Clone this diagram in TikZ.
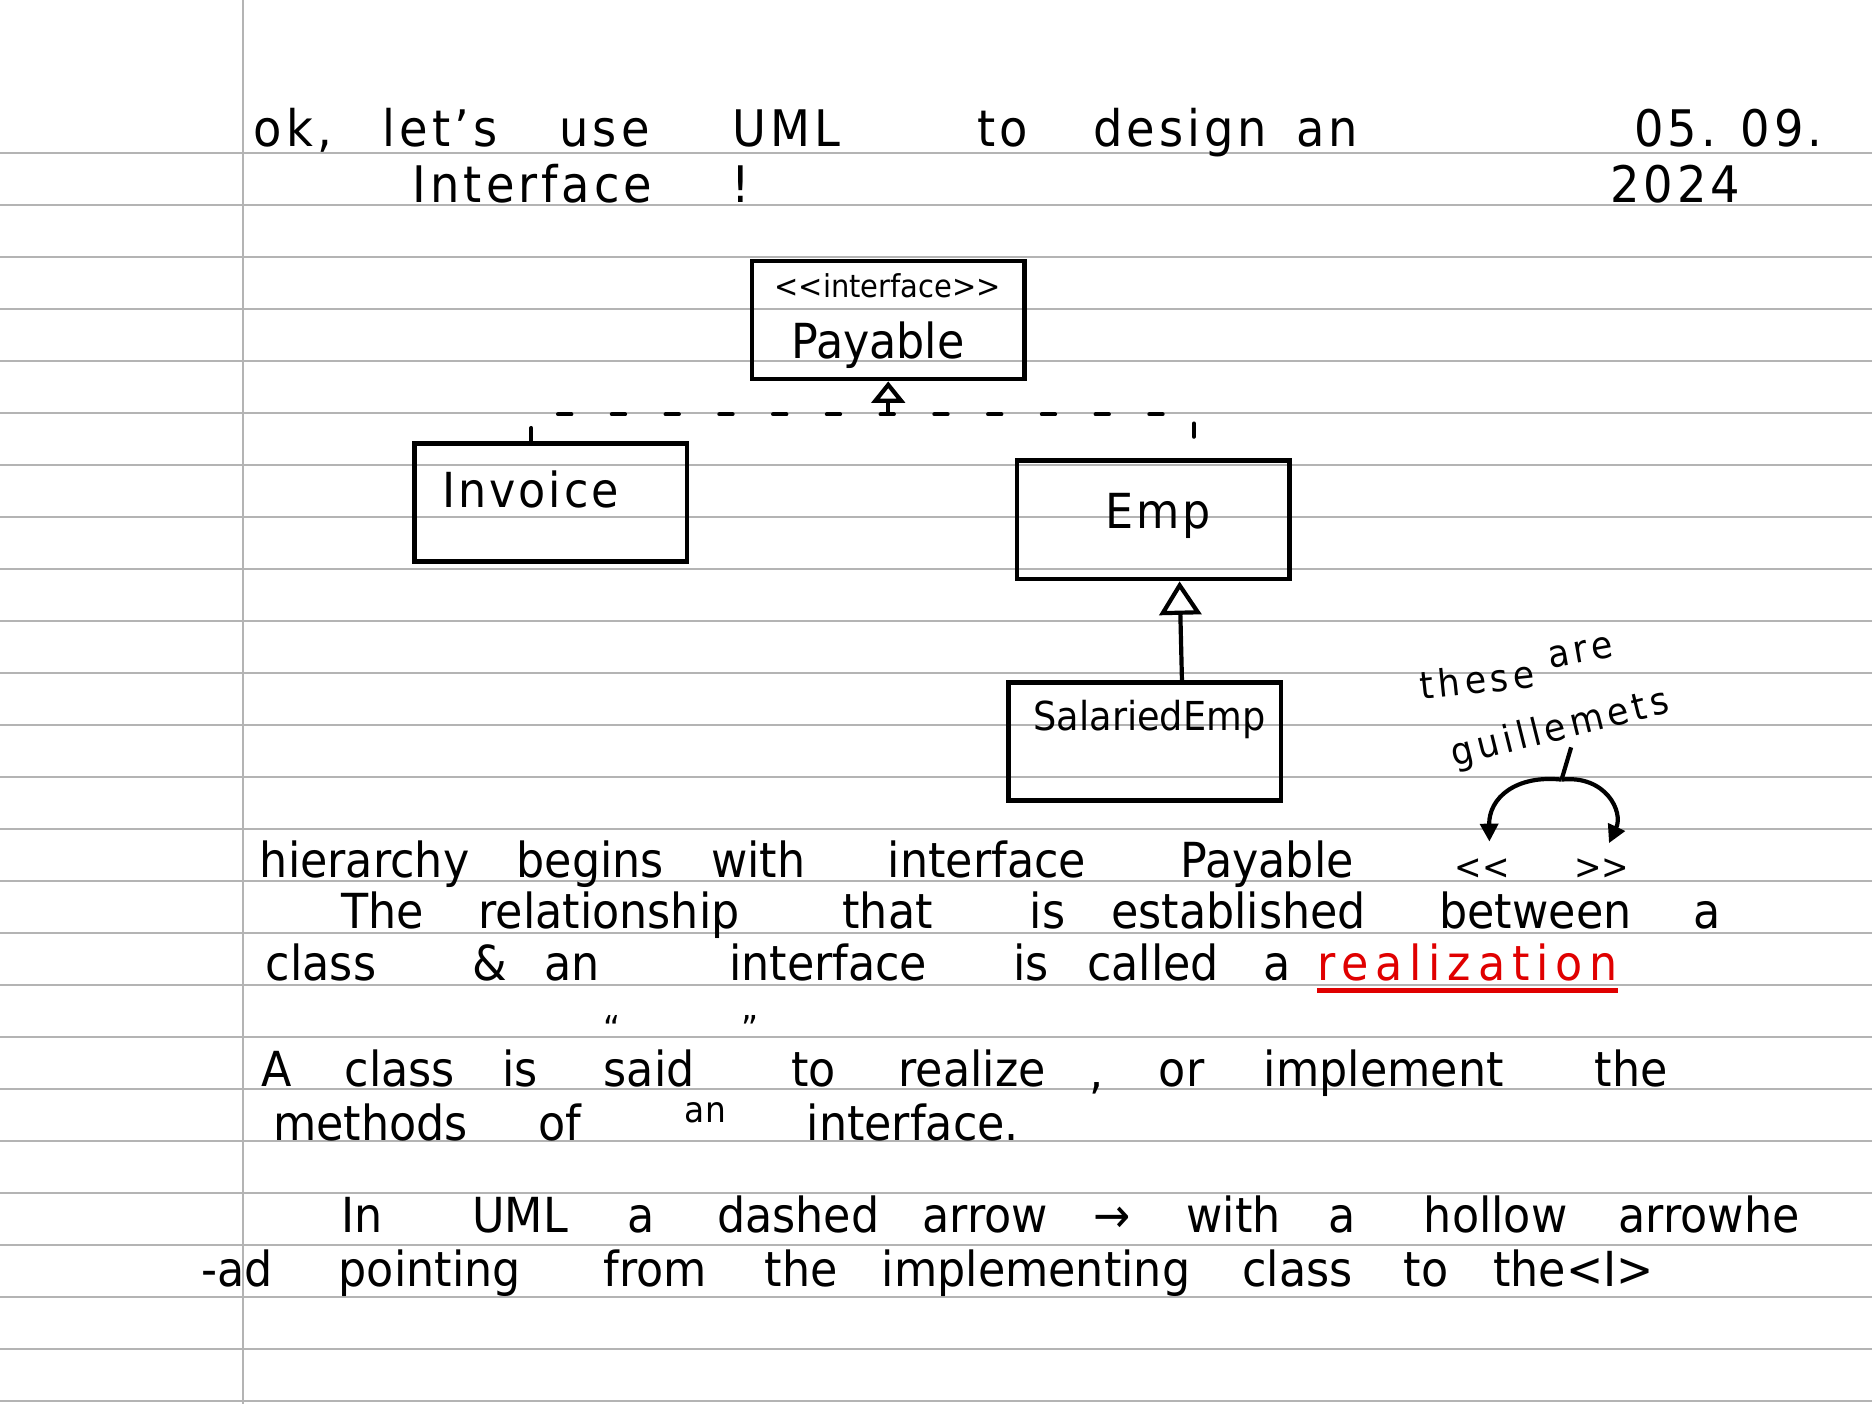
\documentclass[tikz,border=0pt]{standalone}
\usepackage{fontspec}
\setmainfont{DejaVu Sans}[FakeStretch=0.92]
\usepackage{tikz}
\usetikzlibrary{
  arrows.meta,
}
\definecolor{rulegray}{HTML}{B4B4B4}
\definecolor{inkred}{HTML}{E00000}

\tikzset{
  ruling/.style={rulegray, line width=0.5pt},
  hand/.style={anchor=base west, inner sep=0pt, font=\fontsize{11.5}{13}\selectfont},
  titlehand/.style={hand, font=\fontsize{12}{14}\selectfont\addfontfeature{LetterSpace=8}},
  small hand/.style={hand, font=\fontsize{8.5}{10}\selectfont},
  note hand/.style={hand, font=\fontsize{9}{10}\selectfont\addfontfeature{LetterSpace=12}},
  boxhand/.style={hand, font=\fontsize{11.5}{13}\selectfont\addfontfeature{LetterSpace=6}},
  umlbox/.style={draw, line width=1.1pt, minimum width=2.28cm, minimum height=0.99cm, inner sep=0pt},
  realize/.style={line width=1pt, line cap=round, dash pattern=on 0.11cm off 0.34cm},
  realize tip/.style={line width=1pt, -{Triangle[open, length=0.18cm, width=0.28cm]}},
  inherit/.style={line width=1pt, -{Triangle[open, length=0.28cm, width=0.35cm]}},
  pointer/.style={line width=1pt, -{Triangle[length=0.15cm, width=0.15cm]}, shorten >=0.14cm},
}

\begin{document}
\begin{tikzpicture}[x=0.01cm, y=-0.01cm]
\fill[white] (0,0) rectangle (1568,1176);
\useasboundingbox (0,0) rectangle (1568,1176);
\foreach \k in {0,...,24} {
  \draw[ruling] (0,{128+43.55*\k}) -- (1568,{128+43.55*\k});
}
\draw[ruling] (203.5,0) -- (203.5,1176);

% heading
\foreach \x/\w in {212/{ok,}, 320/{let's}, 468/use, 613/UML, 818/to, 915/design, 1085/an} {
  \node[titlehand] (head-\x) at (\x,123) {\w};
}
\node[titlehand] (interface) at (345,170) {Interface};
\node[titlehand] (bang) at (612,170) {!};
\node[titlehand] (date) at (1368,123) {05. 09.};
\node[titlehand] (year) at (1348,170) {2024};

% classes
\node[umlbox] (payable) at (744,268) {};
\node[hand, font=\fontsize{7.5}{9}\selectfont] (payable-tag) at (648,249) {<{}<interface>{}>};
\node[hand] (payable-name) at (662,300) {Payable};
\node[umlbox] (invoice) at (461.5,421) {};
\node[boxhand] (invoice-name) at (370,425) {Invoice};
\node[umlbox] (emp) at (966,435.5) {};
\node[boxhand] (emp-name) at (925,443) {Emp};
\node[umlbox] (salaried) at (959,621) {};
\node[hand, font=\fontsize{9.5}{11}\selectfont] (salaried-name) at (865,612) {SalariedEmp};

\coordinate (bus) at (744,347);
\draw[realize] ([xshift=-0.165cm]invoice.north) |- (bus) -| ([xshift=0.34cm]emp.north);
\draw[realize tip] (bus) -- (payable.south);
\draw[inherit] ([xshift=0.31cm]salaried.north) -- ([xshift=0.22cm]emp.south);

% side note
\node[note hand, rotate=6] (these) at (1190,586) {these};
\node[note hand, rotate=10] (are) at (1298,560) {are};
\node[note hand, rotate=14] (guill) at (1218,642) {guillemets};
\node[small hand] (ll) at (1218,737) {<{}<};
\node[small hand] (gg) at (1318,737) {>{}>};
\coordinate (stem) at (1316,626);
\coordinate (fork) at (1308,653);
\draw[line width=1pt] (stem) -- (fork);
\draw[pointer] (fork) .. controls (1270,649) and (1247,668) .. ([xshift=0.06cm]ll.north);
\draw[pointer] (fork) .. controls (1345,649) and (1360,680) .. (gg.north);

% notes
\foreach \x/\w in {217/hierarchy, 432/begins, 595/with, 743/interface, 988/Payable} {
  \node[hand] (hier-\x) at (\x,735) {\w};
}
\foreach \x/\w in {285/The, 400/relationship, 705/that, 862/is, 930/established, 1205/between, 1418/a} {
  \node[hand] (rel-\x) at (\x,778) {\w};
}
\foreach \x/\w in {222/class, 395/\&, 455/an, 610/interface, 848/is, 910/called, 1058/a} {
  \node[hand] (cls-\x) at (\x,821) {\w};
}
\node[hand, text=inkred, font={\fontsize{11.5}{13}\selectfont\addfontfeature{LetterSpace=14}}] (realization) at (1103,821) {realization};
\draw[inkred, line width=1.2pt] ([yshift=-0.09cm]realization.base west) -- ([yshift=-0.09cm]realization.base east);

\foreach \x/\w in {218/A, 288/class, 420/is, 505/said, 662/to, 752/realize, 970/or, 1058/implement, 1335/the} {
  \node[hand] (said-\x) at (\x,910) {\w};
}
\node[small hand] (open-q) at (505,872) {``};
\node[small hand] (close-q) at (620,872) {''};
\node[hand] (comma) at (912,912) {,};
\foreach \x/\w in {228/methods, 450/of, 675/{interface.}} {
  \node[hand] (meth-\x) at (\x,955) {\w};
}
\node[small hand] (meth-an) at (573,940) {an};

\foreach \x/\w in {285/In, 395/UML, 525/a, 600/dashed, 772/arrow, 915/→, 993/with, 1112/a, 1192/hollow, 1355/arrowhe} {
  \node[hand] (uml-\x) at (\x,1032) {\w};
}
\foreach \x/\w in {168/-ad, 283/pointing, 505/from, 640/the, 738/implementing, 1040/class, 1175/to, 1250/the<I>} {
  \node[hand] (pt-\x) at (\x,1078) {\w};
}
\end{tikzpicture}
\end{document}
